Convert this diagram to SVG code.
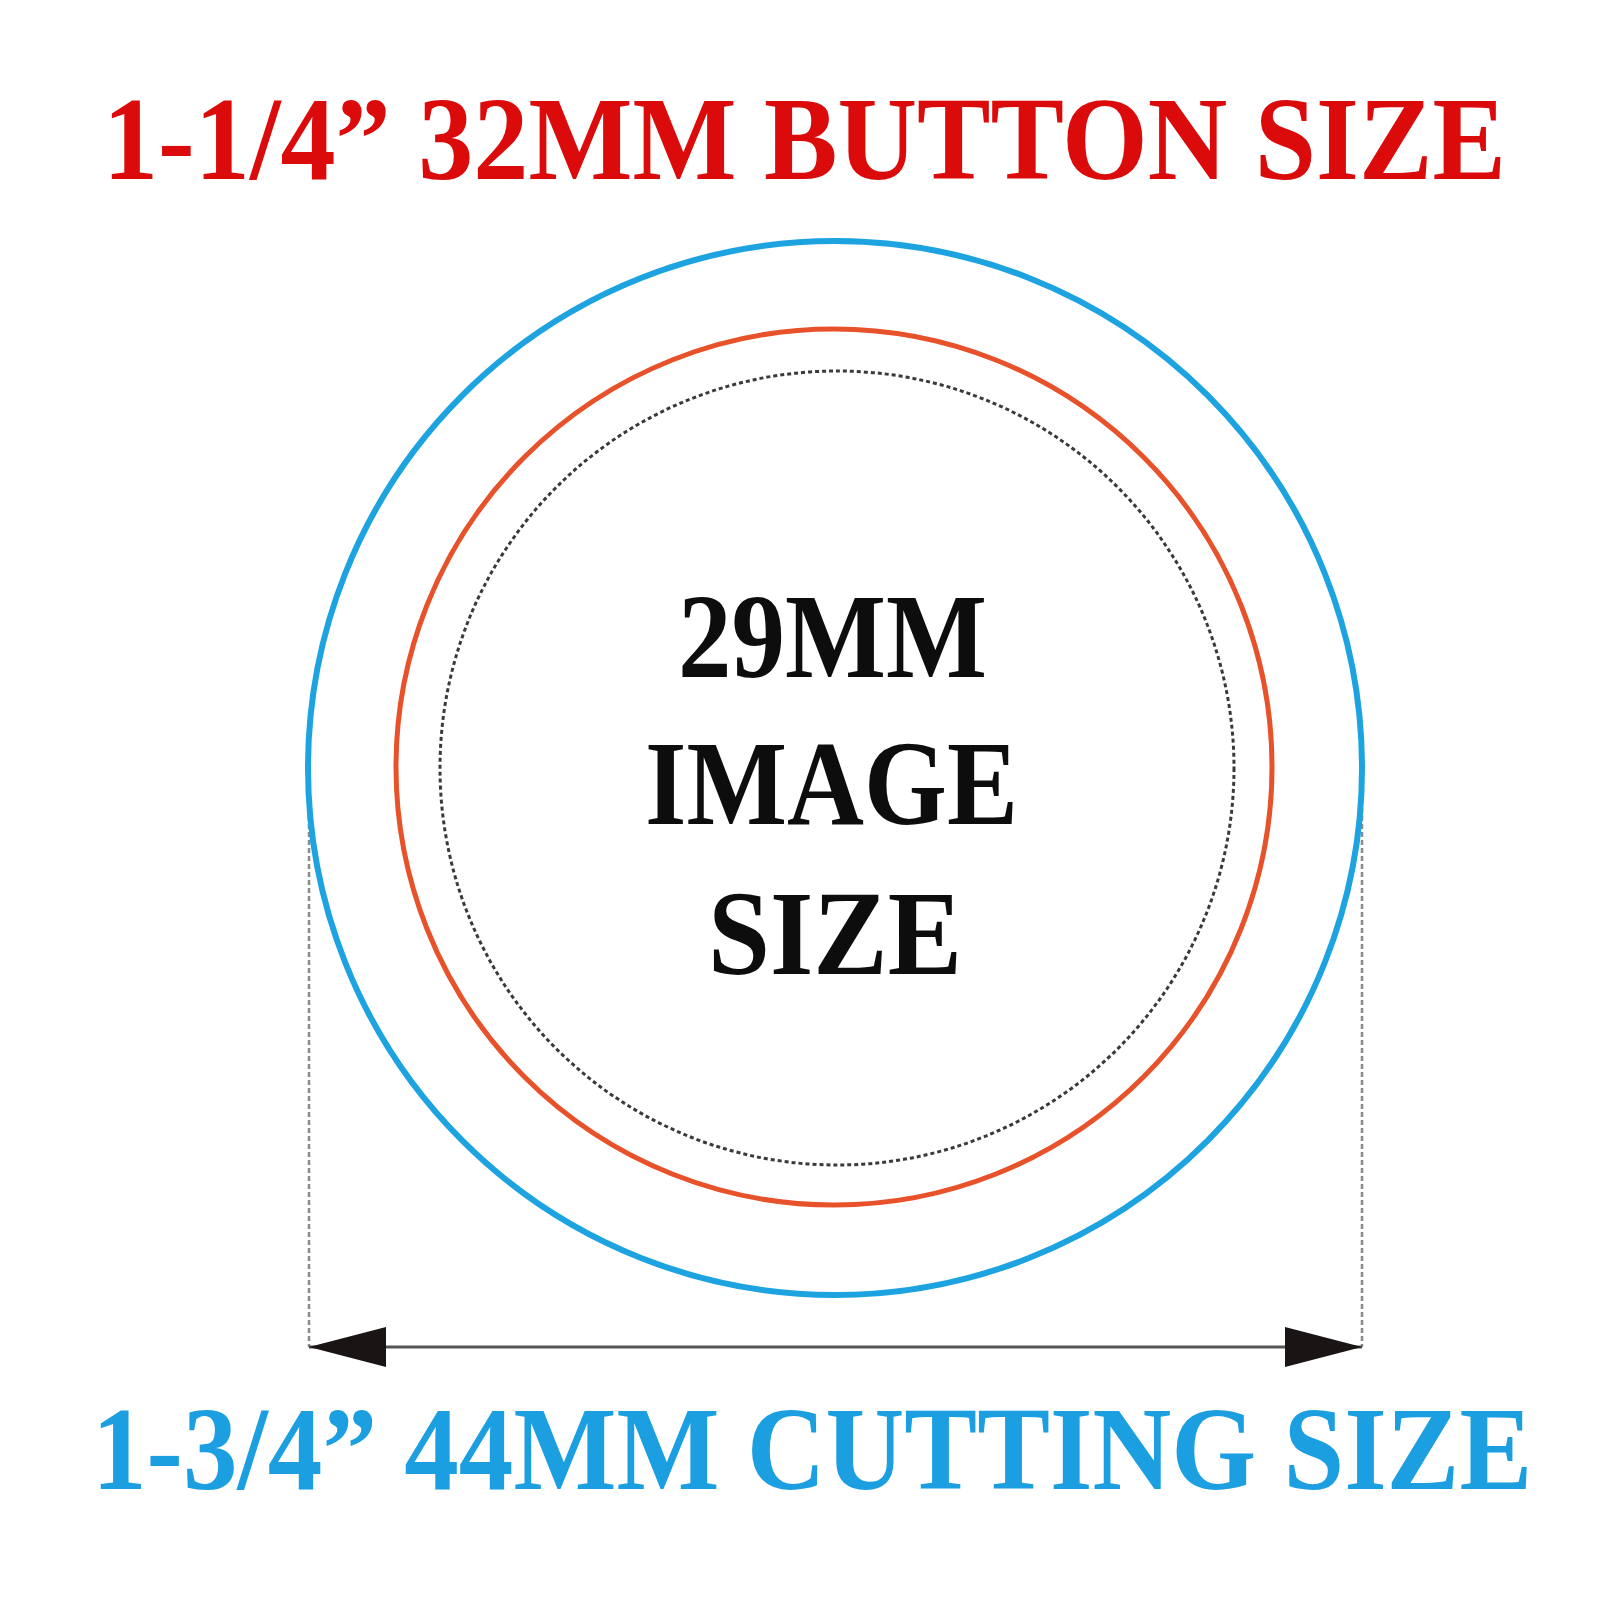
<svg xmlns="http://www.w3.org/2000/svg" width="1600" height="1600" viewBox="0 0 1600 1600">
  <style>
    .title { font-family: "Liberation Serif", "Times New Roman", serif; font-weight: bold; }
    .red { fill: #dc0b0b; }
    .blue { fill: #1b9fe0; }
    .black { fill: #0d0d0d; }
    .ext { stroke: #8a8a8a; stroke-width: 2.5; stroke-dasharray: 5 3; fill: none; }
    .dim { stroke: #555; stroke-width: 3; fill: none; }
  </style>
  <defs>
    <marker id="arrow" markerUnits="userSpaceOnUse" viewBox="0 0 77 40" markerWidth="77" markerHeight="40" refX="77" refY="20" orient="auto-start-reverse">
      <path d="M0,0 L77,20 L0,40 z" fill="#1a1414"/>
    </marker>
  </defs>
  <rect width="1600" height="1600" fill="#ffffff"/>

  <g id="title-button">
    <text class="title red" transform="translate(103,179) scale(0.926,1)" x="0" y="0" font-size="119">1-1/4” 32MM BUTTON SIZE</text>
  </g>

  <g id="connectors">
    <line class="ext" x1="309" y1="768" x2="309" y2="1347"/>
    <line class="ext" x1="1362" y1="768" x2="1362" y2="1347"/>
    <line class="dim" x1="309" y1="1347" x2="1362" y2="1347" marker-start="url(#arrow)" marker-end="url(#arrow)"/>
  </g>

  <g id="cutting-circle">
    <circle cx="835" cy="768" r="527" fill="none" stroke="#1ea3e1" stroke-width="6"/>
  </g>
  <g id="button-circle">
    <circle cx="834" cy="767" r="438" fill="none" stroke="#e8522b" stroke-width="5"/>
  </g>
  <g id="image-circle">
    <circle cx="837" cy="768" r="397" fill="none" stroke="#3a3a3a" stroke-width="3" stroke-dasharray="4 3"/>
  </g>

  <g id="image-label">
    <text class="title black" x="678" y="677" font-size="120" textLength="309" lengthAdjust="spacingAndGlyphs">29MM</text>
    <text class="title black" x="645" y="824" font-size="120" textLength="373" lengthAdjust="spacingAndGlyphs">IMAGE</text>
    <text class="title black" x="708" y="974" font-size="120" textLength="254" lengthAdjust="spacingAndGlyphs">SIZE</text>
  </g>

  <g id="title-cutting">
    <text class="title blue" transform="translate(92,1489) scale(0.925,1)" x="0" y="0" font-size="118">1-3/4” 44MM CUTTING SIZE</text>
  </g>
</svg>
